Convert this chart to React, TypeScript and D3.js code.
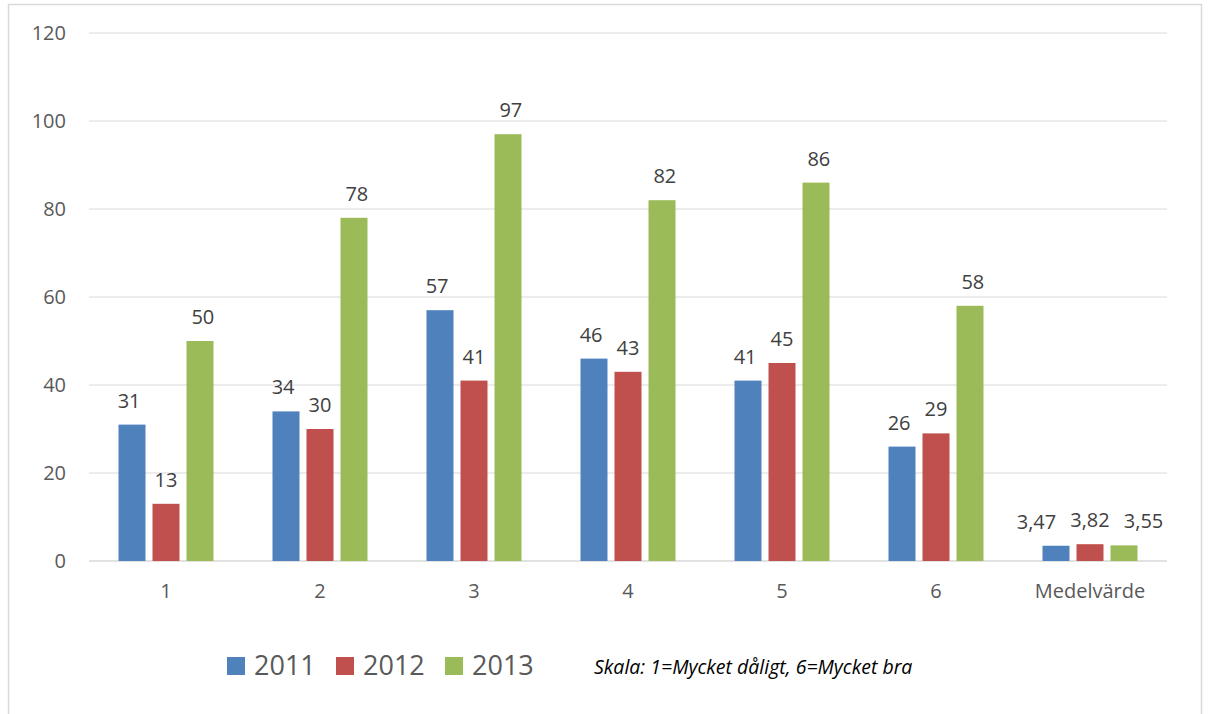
import React from "react";
import * as d3 from "d3";

const categories = ["1", "2", "3", "4", "5", "6", "Medelvärde"];
const seriesNames = ["2011", "2012", "2013"];
const values2011 = [31, 34, 57, 46, 41, 26, 3.47];
const values2012 = [13, 30, 41, 43, 45, 29, 3.82];
const values2013 = [50, 78, 97, 82, 86, 58, 3.55];
const labels2011 = ["31", "34", "57", "46", "41", "26", "3,47"];
const labels2012 = ["13", "30", "41", "43", "45", "29", "3,82"];
const labels2013 = ["50", "78", "97", "82", "86", "58", "3,55"];
const yTicks = [0, 20, 40, 60, 80, 100, 120];
const colors = ["#4F81BD", "#C0504D", "#9BBB59"];
const note = "Skala: 1=Mycket dåligt, 6=Mycket bra";

const W = 1210;
const H = 714;
const plotLeft = 89;
const plotRight = 1167;
const plotTop = 33;
const plotBottom = 561;
const textColor = "#595959";
const font = "'Open Sans', 'Noto Sans', sans-serif";
const labelSize = 20;

function estWidth(s: string) {
  let w = 0;
  for (const ch of s) w += ch === "," ? 0.26 : 0.572;
  return w * labelSize;
}

export default function App() {
  const x = d3
    .scaleBand<string>()
    .domain(categories)
    .range([plotLeft, plotRight])
    .paddingInner(0.383)
    .paddingOuter(0.1915);
  const xs = d3
    .scaleBand<string>()
    .domain(seriesNames)
    .range([0, x.bandwidth()])
    .paddingInner(0.206)
    .paddingOuter(0);
  const y = d3.scaleLinear().domain([0, 120]).range([plotBottom, plotTop]);

  const series = [
    { name: seriesNames[0], values: values2011, labels: labels2011, color: colors[0] },
    { name: seriesNames[1], values: values2012, labels: labels2012, color: colors[1] },
    { name: seriesNames[2], values: values2013, labels: labels2013, color: colors[2] },
  ];

  // label x positions per category, spread apart when labels would overlap
  const step = xs.step();
  const labelX = categories.map((c, i) => {
    const centers = series.map(
      (s) => (x(c) as number) + (xs(s.name) as number) + xs.bandwidth() / 2
    );
    const maxW = d3.max(series, (s) => estWidth(s.labels[i])) as number;
    const need = maxW + 14;
    if (need <= step) return centers;
    const mid = centers[1];
    return centers.map((_, k) => mid + (k - 1) * need);
  });

  const legendX = [227, 336, 445];

  return (
    <svg
      width={W}
      height={H}
      style={{ position: "absolute", left: 0, top: 0, display: "block", background: "#fff" }}
    >
      <rect x={8.5} y={4.5} width={1193} height={720} fill="#fff" stroke="#D9D9D9" strokeWidth={1.5} />
      {yTicks.map((t) => (
        <g key={t}>
          <line
            x1={plotLeft}
            x2={plotRight}
            y1={y(t)}
            y2={y(t)}
            stroke="#D9D9D9"
            strokeWidth={t === 0 ? 1.5 : 1}
          />
          <text
            x={66}
            y={y(t)}
            dy="0.35em"
            textAnchor="end"
            fontFamily={font}
            fontSize={labelSize}
            fill={textColor}
          >
            {t}
          </text>
        </g>
      ))}
      {series.map((s, si) =>
        categories.map((c, i) => {
          const bx = (x(c) as number) + (xs(s.name) as number);
          const by = y(s.values[i]);
          return (
            <g key={s.name + c}>
              <rect
                x={bx}
                y={by}
                width={xs.bandwidth()}
                height={plotBottom - by}
                fill={s.color}
              />
              <text
                x={labelX[i][si]}
                y={by - 17}
                textAnchor="middle"
                fontFamily={font}
                fontSize={labelSize}
                fill="#404040"
              >
                {s.labels[i]}
              </text>
            </g>
          );
        })
      )}
      {categories.map((c) => (
        <text
          key={c}
          x={(x(c) as number) + x.bandwidth() / 2}
          y={598}
          textAnchor="middle"
          fontFamily={font}
          fontSize={labelSize}
          fill={textColor}
        >
          {c}
        </text>
      ))}
      {series.map((s, i) => (
        <g key={"leg" + s.name}>
          <rect x={legendX[i]} y={657} width={18} height={18} fill={s.color} />
          <text
            x={legendX[i] + 27}
            y={675}
            fontFamily={font}
            fontSize={27}
            fill={textColor}
          >
            {s.name}
          </text>
        </g>
      ))}
      <text
        x={594}
        y={674}
        fontFamily={font}
        fontStyle="italic"
        fontSize={19.5}
        fill="#000"
      >
        {note}
      </text>
    </svg>
  );
}
